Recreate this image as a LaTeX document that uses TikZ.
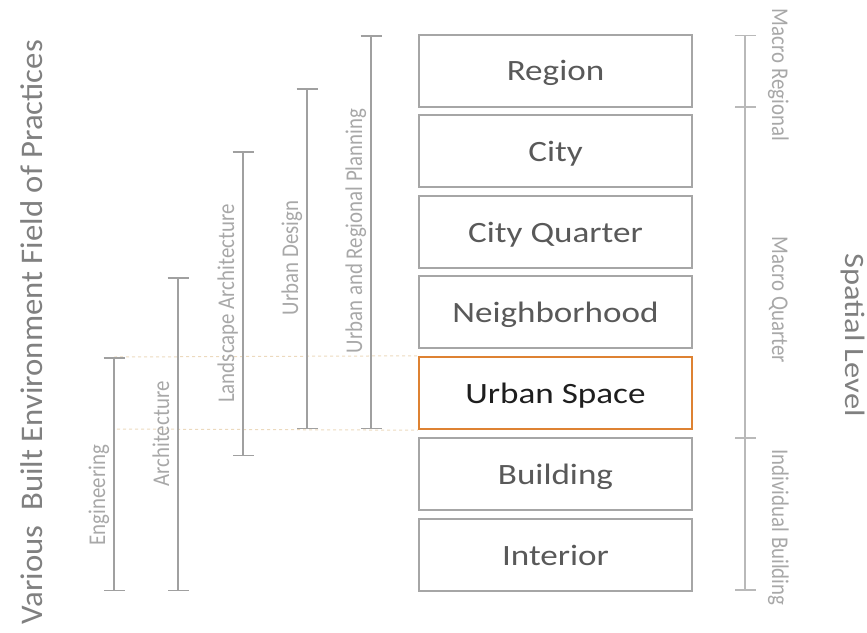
\documentclass[tikz,border=0pt]{standalone}
\usepackage{fontspec}
\setmainfont{Carlito}
\newfontfamily\boxfont[FakeStretch=1.19]{Carlito}
\newfontfamily\labfont[FakeStretch=0.87]{Carlito}
\newfontfamily\spfont[FakeStretch=1.16]{Carlito}
\newfontfamily\titfont[FakeStretch=1.04]{Carlito}
\usetikzlibrary{arrows.meta}
\definecolor{boxline}{RGB}{166,166,166}
\definecolor{boxtext}{RGB}{89,89,89}
\definecolor{darktext}{RGB}{30,30,30}
\definecolor{accent}{RGB}{222,130,50}
\definecolor{barline}{RGB}{160,160,160}
\definecolor{axisline}{RGB}{185,185,185}
\definecolor{labgray}{RGB}{168,168,168}
\definecolor{titgray}{RGB}{128,128,128}
\definecolor{dashcol}{RGB}{236,218,190}
\tikzset{
  levelbox/.style={draw=boxline, line width=2pt, minimum width=273pt, minimum height=72pt,
    inner sep=0pt, text=boxtext, text height=20pt, text depth=0pt,
    font=\boxfont\fontsize{29.5}{30}\selectfont},
  focusbox/.style={levelbox, draw=accent, line width=2.4pt, text=darktext},
  rangebar/.style={draw=barline, line width=1.5pt, {Bar[width=21pt]}-{Bar[width=21pt]}},
  axisbar/.style={draw=axisline, line width=1.2pt, {Bar[width=21pt]}-{Bar[width=21pt]}},
  fieldlab/.style={text=labgray, inner sep=0pt, anchor=base, font=\labfont\fontsize{24}{24}\selectfont},
  dashline/.style={draw=dashcol, line width=1pt, dash pattern=on 3pt off 3pt},
}
\begin{document}
\begin{tikzpicture}[x=1pt,y=-1pt]
\useasboundingbox (0,0) rectangle (867,632);

% level boxes
\node[levelbox] (region) at (555.5,70.5) {Region};
\node[levelbox] (city) at (555.5,151) {City};
\node[levelbox] (quarter) at (555.5,232) {City Quarter};
\node[levelbox] (neigh) at (555.5,312) {Neighborhood};
\node[focusbox] (urban) at (555.5,393) {Urban Space};
\node[levelbox] (building) at (555.5,474) {Building};
\node[levelbox] (interior) at (555.5,555) {Interior};

% field bar end points
\coordinate (engT) at (114,357);
\coordinate (engB) at (114,591);
\coordinate (arcT) at (178,277);
\coordinate (arcB) at (178,591);
\coordinate (lanT) at (243,151);
\coordinate (lanB) at (243,456);
\coordinate (udT) at (307,88);
\coordinate (udB) at (307,429);
\coordinate (urpT) at (371,35);
\coordinate (urpB) at (371,429);
\coordinate (dashL) at (117,429);

% dashed guide lines
\draw[dashline] (engT) -- (urban.north west);
\draw[dashline] (dashL) -- (urban.south west);

% field bars
\draw[rangebar] (engT) -- (engB);
\draw[rangebar] (arcT) -- (arcB);
\draw[rangebar] (lanT) -- (lanB);
\draw[rangebar] (udT) -- (udB);
\draw[rangebar] (urpT) -- (urpB);

% field labels
\node[fieldlab, rotate=90] (lEng) at (105,495) {Engineering};
\node[fieldlab, rotate=90] (lArc) at (169,434) {Architecture};
\node[fieldlab, rotate=90] (lLan) at (234,303.5) {Landscape Architecture};
\node[fieldlab, rotate=90] (lUd) at (298,258) {Urban Design};
\node[fieldlab, rotate=90] (lUrp) at (362,231) {Urban and Regional Planning};

% title
\node[text=titgray, inner sep=0pt, anchor=base, rotate=90,
  font=\titfont\fontsize{31.5}{32}\selectfont] (title) at (42,332)
  {Various~~Built Environment Field of Practices};

% spatial axis
\coordinate (axA) at (745,34.5);
\coordinate (axB) at (745,107);
\coordinate (axC) at (745,438);
\coordinate (axD) at (745,590.5);
\draw[axisbar] (axA) -- (axB);
\draw[axisbar] (axB) -- (axC);
\draw[axisbar] (axC) -- (axD);

\node[fieldlab, rotate=-90] (lMR) at (772,75) {Macro Regional};
\node[fieldlab, rotate=-90] (lMQ) at (772,300) {Macro Quarter};
\node[fieldlab, rotate=-90] (lIB) at (772,527.5) {Individual Building};

\node[text=titgray, inner sep=0pt, anchor=base, rotate=-90,
  font=\spfont\fontsize{28}{28}\selectfont] (spatial) at (845,335) {Spatial Level};
\end{tikzpicture}
\end{document}
